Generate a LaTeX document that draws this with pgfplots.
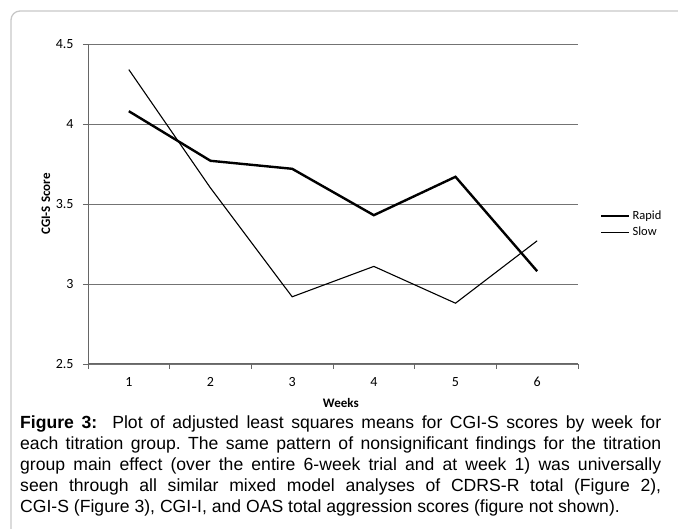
\documentclass[border=0pt]{standalone}
\usepackage{fontspec}
\setmainfont{Liberation Sans}
\newfontfamily\chartfont{Carlito}
\usepackage{pgfplots}
\pgfplotsset{compat=1.18}
\frenchspacing

\begin{document}
\begin{tikzpicture}
\path[use as bounding box] (0,0) rectangle (678bp,529bp);
% frame of the figure box
\draw[black!22, line width=1.3bp, rounded corners=9bp] (11bp,0) -- (11bp,518bp) -- (678bp,518bp);

\begin{axis}[
    at={(88bp,165bp)}, anchor=south west,
    scale only axis, width=490bp, height=320bp,
    xmin=0.5, xmax=6.5, ymin=2.5, ymax=4.5,
    xtick={0.5,1.5,...,6.5},
    xticklabels={1,2,3,4,5,6,},
    xticklabel style={xshift=40.8bp, yshift=-5bp},
    ytick={2.5,3,3.5,4,4.5},
    yticklabels={2.5,3,3.5,4,4.5},
    yticklabel style={xshift=-6bp},
    axis x line*=bottom, axis y line*=left,
    axis line style={black!60, line width=1bp},
    tick align=outside, major tick length=5bp,
    tick style={black!60, line width=0.8bp},
    ymajorgrids, grid style={black!55, line width=0.9bp},
    tick label style={font=\chartfont\fontsize{14bp}{16bp}\selectfont},
    xlabel={Weeks}, ylabel={CGI-S Score},
    xlabel style={at={(axis description cs:0.516,-0.122)}, anchor=center,
        font=\chartfont\bfseries\fontsize{13bp}{15bp}\selectfont},
    ylabel style={at={(axis description cs:-0.086,0.5)}, rotate=0, anchor=center,
        font=\chartfont\bfseries\fontsize{13bp}{15bp}\selectfont},
    legend style={draw=none, fill=none, at={(axis description cs:1.045,0.4375)}, anchor=west,
        font=\chartfont\fontsize{12.5bp}{14bp}\selectfont, row sep=2bp,
        inner sep=0pt},
    legend cell align=left,
    legend image code/.code={\draw[#1] (0bp,0bp) -- (28bp,0bp);},
    clip=false,
]
\addplot[black, line width=2.4bp] coordinates {
    (1,4.08) (2,3.77) (3,3.72) (4,3.43) (5,3.67) (6,3.08)
};
\addlegendentry{Rapid}
\addplot[black, line width=1.1bp] coordinates {
    (1,4.34) (2,3.60) (3,2.92) (4,3.11) (5,2.88) (6,3.27)
};
\addlegendentry{Slow}
\end{axis}

\node[anchor=north west, text width=641bp, align=justify, inner sep=0pt,
      font=\fontsize{17.6bp}{21bp}\selectfont] at (20bp,113bp)
{\textbf{Figure 3:}\ \ Plot of adjusted least squares means for CGI-S scores by week for\linebreak
each titration group. The same pattern of nonsignificant findings for the titration\linebreak
group main effect (over the entire 6-week trial and at week 1) was universally\linebreak
seen through all similar mixed model analyses of CDRS-R total (Figure 2),\linebreak
CGI-S (Figure 3), CGI-I, and OAS total aggression scores (figure not shown).};
\end{tikzpicture}
\end{document}
